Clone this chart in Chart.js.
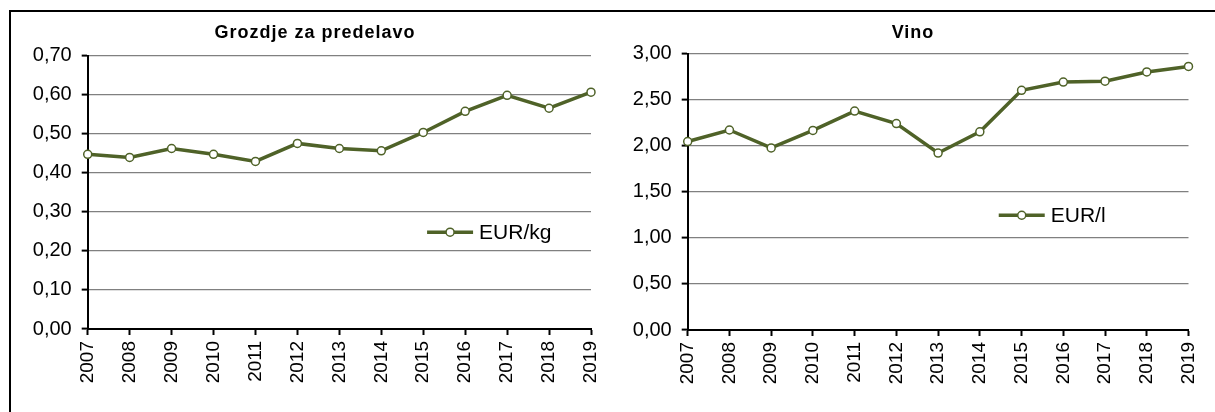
<!DOCTYPE html>
<html><head><meta charset="utf-8">
<script src="https://cdn.jsdelivr.net/npm/chart.js@4.4.0/dist/chart.umd.min.js"></script>
<style>
html,body{margin:0;padding:0;background:#fff;width:1215px;height:412px;overflow:hidden;position:relative}
#frame{position:absolute;left:9px;top:10px;width:1300px;height:500px;border-left:2px solid #000;border-top:2px solid #000}
.box{position:absolute;top:0;height:412px}
canvas{display:block}
.title{position:absolute;top:22px;width:400px;text-align:center;font:bold 18px "Liberation Sans",Arial,sans-serif;line-height:20px;letter-spacing:1px;color:#000;white-space:nowrap}
</style></head><body>
<div id="frame"></div>
<div class="box" style="left:12px;width:596px"><canvas id="c1" width="596" height="412"></canvas></div>
<div class="box" style="left:612px;width:600px"><canvas id="c2" width="600" height="412"></canvas></div>
<div class="title" id="t1" style="left:115px"></div>
<div class="title" id="t2" style="left:713px"></div>
<script>
const years = ['2007','2008','2009','2010','2011','2012','2013','2014','2015','2016','2017','2018','2019'];
const grapePrices = [0.447, 0.439, 0.462, 0.447, 0.429, 0.475, 0.462, 0.456, 0.503, 0.557, 0.598, 0.565, 0.606];
const winePrices = [2.045, 2.17, 1.975, 2.165, 2.375, 2.24, 1.92, 2.15, 2.60, 2.69, 2.70, 2.80, 2.86];
const grapeTitle = 'Grozdje za predelavo';
const wineTitle = 'Vino';
const grapeLabel = 'EUR/kg';
const wineLabel = 'EUR/l';
const grapeAxis = {min: 0, max: 0.7, step: 0.1};
const wineAxis = {min: 0, max: 3, step: 0.5};

document.getElementById('t1').textContent = grapeTitle;
document.getElementById('t2').textContent = wineTitle;

const FONT = '"Liberation Sans", Arial, sans-serif';
const OLIVE = '#4F6228';

const inlineLegend = {
  id: 'inlineLegend',
  afterDraw(chart, args, opts) {
    const {ctx, chartArea} = chart;
    const ds = chart.data.datasets[0];
    const cx = chartArea.left + opts.fx * (chartArea.right - chartArea.left);
    const cy = chartArea.top + opts.fy * (chartArea.bottom - chartArea.top);
    ctx.save();
    ctx.strokeStyle = ds.borderColor;
    ctx.lineWidth = ds.borderWidth;
    ctx.beginPath(); ctx.moveTo(cx - 23, cy); ctx.lineTo(cx + 23, cy); ctx.stroke();
    ctx.beginPath(); ctx.arc(cx, cy, ds.pointRadius, 0, Math.PI * 2);
    ctx.fillStyle = ds.pointBackgroundColor; ctx.fill();
    ctx.lineWidth = ds.pointBorderWidth; ctx.stroke();
    ctx.fillStyle = '#000';
    ctx.font = '21px ' + FONT;
    ctx.textBaseline = 'middle'; ctx.textAlign = 'left';
    ctx.fillText(ds.label, cx + 29, cy + 1);
    ctx.restore();
  }
};

function makeChart(id, label, values, axis, L) {
  return new Chart(document.getElementById(id), {
    type: 'line',
    data: {
      labels: years,
      datasets: [{
        label: label,
        data: values,
        borderColor: OLIVE,
        borderWidth: 3.5,
        pointRadius: 4,
        pointBorderWidth: 1.5,
        pointBorderColor: OLIVE,
        pointBackgroundColor: '#fff',
        tension: 0,
        fill: false
      }]
    },
    plugins: [inlineLegend],
    options: {
      responsive: false,
      animation: false,
      devicePixelRatio: 1,
      layout: {padding: {left: L.padL, right: L.padR, top: L.top, bottom: 0}},
      plugins: {
        legend: {display: false},
        tooltip: {enabled: false},
        title: {display: false},
        inlineLegend: {fx: L.fx, fy: L.fy}
      },
      scales: {
        x: {
          offset: false,
          grid: {display: true, drawOnChartArea: false, drawTicks: true, tickLength: 6, tickColor: '#000', tickWidth: 2},
          border: {display: true, color: '#000', width: 2},
          ticks: {color: '#000', font: {family: FONT, size: 19}, minRotation: 90, maxRotation: 90, autoSkip: false, padding: 6},
          afterFit(s) { s.height = L.xh; s.paddingLeft = 0; s.paddingRight = 0; }
        },
        y: {
          min: axis.min, max: axis.max,
          grid: {color: '#808080', lineWidth: 1.2, drawTicks: true, tickLength: 6, tickColor: '#000', tickWidth: 2},
          border: {display: true, color: '#000', width: 2},
          ticks: {
            stepSize: axis.step, color: '#000', font: {family: FONT, size: 20}, padding: 10,
            callback: v => v.toFixed(2).replace('.', ',')
          },
          afterFit(s) { s.width = L.yw; s.paddingTop = 0; s.paddingBottom = 0; }
        }
      }
    }
  });
}

makeChart('c1', grapeLabel, grapePrices, grapeAxis,
  {padL: 2, padR: 17, top: 55.5, yw: 73.7, xh: 83, fx: 0.72, fy: 0.646});
makeChart('c2', wineLabel, winePrices, wineAxis,
  {padL: 2, padR: 23.5, top: 53.5, yw: 73.7, xh: 82, fx: 0.667, fy: 0.585});
</script>
</body></html>
